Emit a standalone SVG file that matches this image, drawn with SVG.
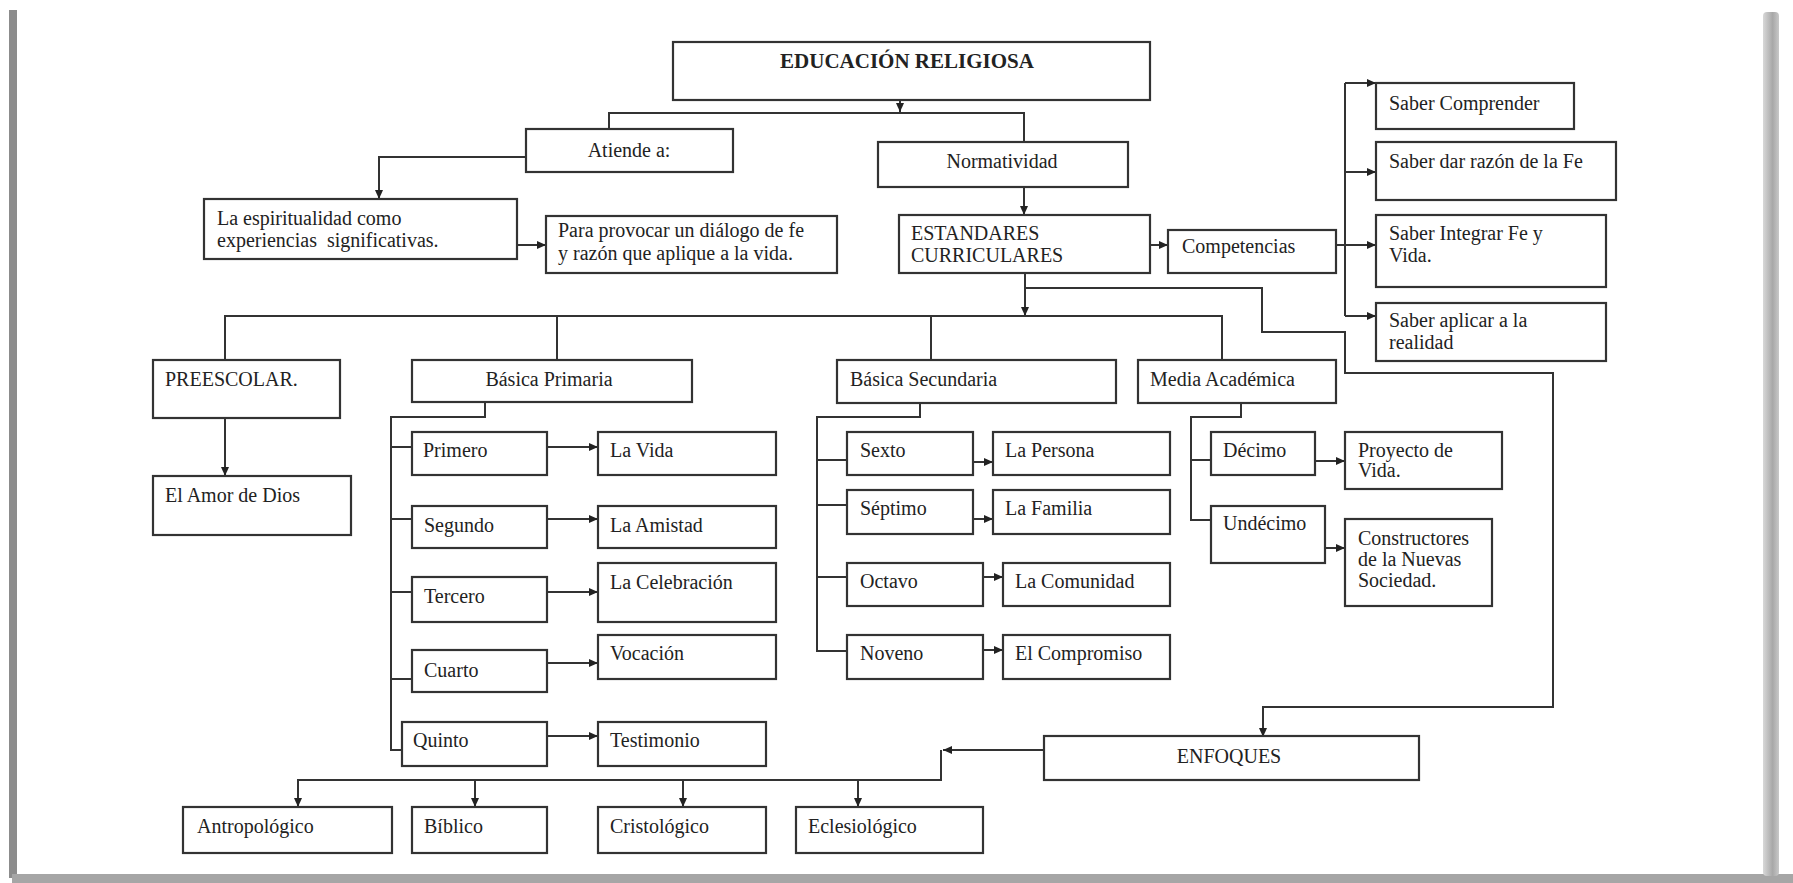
<svg xmlns="http://www.w3.org/2000/svg" width="1793" height="883" viewBox="0 0 1793 883">
<style>
.b{fill:#fff;stroke:#333;stroke-width:2.2}
.t{font-family:"Liberation Serif","Times New Roman",serif;font-size:20px;fill:#222}
.tb{font-family:"Liberation Serif","Times New Roman",serif;font-size:21px;font-weight:bold;fill:#222}
.c{fill:none;stroke:#333;stroke-width:2}
.m{text-anchor:middle}
</style>
<defs>
<marker id="ah" markerWidth="10" markerHeight="10" refX="9" refY="5" orient="auto" markerUnits="userSpaceOnUse"><path d="M0,1 L9,5 L0,9 z" fill="#222"/></marker>
<linearGradient id="rg" x1="0" x2="1" y1="0" y2="0"><stop offset="0" stop-color="#d8d8d8"/><stop offset="0.6" stop-color="#a8a8a8"/><stop offset="1" stop-color="#c8c8c8"/></linearGradient>
</defs>
<rect width="1793" height="883" fill="#fff"/>
<g id="frame">
<rect x="9" y="10" width="8" height="868" fill="#8c8c8c"/>
<rect x="12" y="874" width="1781" height="9" fill="#a6a6a6"/>
<rect x="1763" y="12" width="16" height="864" rx="4" fill="url(#rg)"/>
</g>
<g id="connectors">
<path class="c" d="M900,100 V112" marker-end="url(#ah)"/>
<path class="c" d="M609,129 V113 H1024 V142"/>
<path class="c" d="M526,157 H379 V199" marker-end="url(#ah)"/>
<path class="c" d="M517,245 H546" marker-end="url(#ah)"/>
<path class="c" d="M1024,187 V215" marker-end="url(#ah)"/>
<path class="c" d="M1150,245 H1168" marker-end="url(#ah)"/>
<path class="c" d="M1336,245 H1345 M1345,83 V316"/>
<path class="c" d="M1345,83 H1376" marker-end="url(#ah)"/>
<path class="c" d="M1345,172 H1376" marker-end="url(#ah)"/>
<path class="c" d="M1345,245 H1376" marker-end="url(#ah)"/>
<path class="c" d="M1345,316 H1376" marker-end="url(#ah)"/>
<path class="c" d="M1025,273 V316" marker-end="url(#ah)"/>
<path class="c" d="M225,360 V316 H1222 V360 M557,316 V360 M931,316 V360"/>
<path class="c" d="M1025,288 H1262 V332 H1345 V373 H1553 V707 H1263 V737" marker-end="url(#ah)"/>
<path class="c" d="M225,418 V476" marker-end="url(#ah)"/>
<path class="c" d="M485,402 V417 H391 V750 H402 M391,447 H412 M391,519 H412 M391,592 H412 M391,679 H412"/>
<path class="c" d="M547,447 H598" marker-end="url(#ah)"/>
<path class="c" d="M547,519 H598" marker-end="url(#ah)"/>
<path class="c" d="M547,592 H598" marker-end="url(#ah)"/>
<path class="c" d="M547,663 H598" marker-end="url(#ah)"/>
<path class="c" d="M547,736 H598" marker-end="url(#ah)"/>
<path class="c" d="M920,403 V417 H817 V651 H847 M817,460 H847 M817,505 H847 M817,577 H847"/>
<path class="c" d="M973,462 H993" marker-end="url(#ah)"/>
<path class="c" d="M973,519 H993" marker-end="url(#ah)"/>
<path class="c" d="M983,577 H1003" marker-end="url(#ah)"/>
<path class="c" d="M983,650 H1003" marker-end="url(#ah)"/>
<path class="c" d="M1241,403 V417 H1191 V520 H1211 M1191,460 H1211"/>
<path class="c" d="M1315,461 H1345" marker-end="url(#ah)"/>
<path class="c" d="M1325,548 H1345" marker-end="url(#ah)"/>
<path class="c" d="M1044,750 H943" marker-end="url(#ah)"/>
<path class="c" d="M941,750 V780 H298 V807 M475,780 V807 M683,780 V807 M858,780 V807"/>
<path class="c" d="M298,790 V807" marker-end="url(#ah)"/>
<path class="c" d="M475,790 V807" marker-end="url(#ah)"/>
<path class="c" d="M683,790 V807" marker-end="url(#ah)"/>
<path class="c" d="M858,790 V807" marker-end="url(#ah)"/>
</g>
<g id="n-educacion"><rect class="b" x="673" y="42" width="477" height="58"/><text class="tb m" x="907" y="68">EDUCACIÓN RELIGIOSA</text></g>
<g id="n-atiende"><rect class="b" x="526" y="129" width="207" height="43"/><text class="t m" x="629" y="157">Atiende a:</text></g>
<g id="n-normatividad"><rect class="b" x="878" y="142" width="250" height="45"/><text class="t m" x="1002" y="168">Normatividad</text></g>
<g id="n-espiritualidad"><rect class="b" x="204" y="199" width="313" height="60"/><text class="t" x="217" y="225">La espiritualidad como</text><text class="t" x="217" y="247" xml:space="preserve">experiencias  significativas.</text></g>
<g id="n-provocar"><rect class="b" x="546" y="216" width="291" height="57"/><text class="t" x="558" y="237">Para provocar un diálogo de fe</text><text class="t" x="558" y="260">y razón que aplique a la vida.</text></g>
<g id="n-estandares"><rect class="b" x="899" y="215" width="251" height="58"/><text class="t" x="911" y="240">ESTANDARES</text><text class="t" x="911" y="262">CURRICULARES</text></g>
<g id="n-competencias"><rect class="b" x="1168" y="230" width="168" height="43"/><text class="t" x="1182" y="253">Competencias</text></g>
<g id="n-comprender"><rect class="b" x="1376" y="83" width="198" height="46"/><text class="t" x="1389" y="110">Saber Comprender</text></g>
<g id="n-razon"><rect class="b" x="1376" y="142" width="240" height="58"/><text class="t" x="1389" y="168">Saber dar razón de la Fe</text></g>
<g id="n-integrar"><rect class="b" x="1376" y="215" width="230" height="72"/><text class="t" x="1389" y="240">Saber Integrar Fe y</text><text class="t" x="1389" y="262">Vida.</text></g>
<g id="n-aplicar"><rect class="b" x="1376" y="303" width="230" height="58"/><text class="t" x="1389" y="327">Saber aplicar a la</text><text class="t" x="1389" y="349">realidad</text></g>
<g id="n-preescolar"><rect class="b" x="153" y="360" width="187" height="58"/><text class="t" x="165" y="386">PREESCOLAR.</text></g>
<g id="n-amor"><rect class="b" x="153" y="476" width="198" height="59"/><text class="t" x="165" y="502">El Amor de Dios</text></g>
<g id="n-primaria"><rect class="b" x="412" y="360" width="280" height="42"/><text class="t m" x="549" y="386">Básica Primaria</text></g>
<g id="n-secundaria"><rect class="b" x="837" y="360" width="279" height="43"/><text class="t" x="850" y="386">Básica Secundaria</text></g>
<g id="n-media"><rect class="b" x="1138" y="360" width="198" height="43"/><text class="t" x="1150" y="386">Media Académica</text></g>
<g id="n-primero"><rect class="b" x="412" y="432" width="135" height="43"/><text class="t" x="423" y="457">Primero</text></g>
<g id="n-vida"><rect class="b" x="598" y="432" width="178" height="43"/><text class="t" x="610" y="457">La Vida</text></g>
<g id="n-segundo"><rect class="b" x="412" y="506" width="135" height="42"/><text class="t" x="424" y="532">Segundo</text></g>
<g id="n-amistad"><rect class="b" x="598" y="506" width="178" height="42"/><text class="t" x="610" y="532">La Amistad</text></g>
<g id="n-tercero"><rect class="b" x="412" y="577" width="135" height="45"/><text class="t" x="424" y="603">Tercero</text></g>
<g id="n-celebracion"><rect class="b" x="598" y="563" width="178" height="59"/><text class="t" x="610" y="589">La Celebración</text></g>
<g id="n-cuarto"><rect class="b" x="412" y="650" width="135" height="42"/><text class="t" x="424" y="677">Cuarto</text></g>
<g id="n-vocacion"><rect class="b" x="598" y="635" width="178" height="44"/><text class="t" x="610" y="660">Vocación</text></g>
<g id="n-quinto"><rect class="b" x="402" y="722" width="145" height="44"/><text class="t" x="413" y="747">Quinto</text></g>
<g id="n-testimonio"><rect class="b" x="598" y="722" width="168" height="44"/><text class="t" x="610" y="747">Testimonio</text></g>
<g id="n-sexto"><rect class="b" x="847" y="432" width="126" height="43"/><text class="t" x="860" y="457">Sexto</text></g>
<g id="n-persona"><rect class="b" x="993" y="432" width="177" height="43"/><text class="t" x="1005" y="457">La Persona</text></g>
<g id="n-septimo"><rect class="b" x="847" y="490" width="126" height="44"/><text class="t" x="860" y="515">Séptimo</text></g>
<g id="n-familia"><rect class="b" x="993" y="490" width="177" height="44"/><text class="t" x="1005" y="515">La Familia</text></g>
<g id="n-octavo"><rect class="b" x="847" y="563" width="136" height="43"/><text class="t" x="860" y="588">Octavo</text></g>
<g id="n-comunidad"><rect class="b" x="1003" y="563" width="167" height="43"/><text class="t" x="1015" y="588">La Comunidad</text></g>
<g id="n-noveno"><rect class="b" x="847" y="635" width="136" height="44"/><text class="t" x="860" y="660">Noveno</text></g>
<g id="n-compromiso"><rect class="b" x="1003" y="635" width="167" height="44"/><text class="t" x="1015" y="660">El Compromiso</text></g>
<g id="n-decimo"><rect class="b" x="1211" y="432" width="104" height="43"/><text class="t" x="1223" y="457">Décimo</text></g>
<g id="n-proyecto"><rect class="b" x="1345" y="432" width="157" height="57"/><text class="t" x="1358" y="457">Proyecto de</text><text class="t" x="1358" y="477">Vida.</text></g>
<g id="n-undecimo"><rect class="b" x="1211" y="506" width="114" height="57"/><text class="t" x="1223" y="530">Undécimo</text></g>
<g id="n-constructores"><rect class="b" x="1345" y="519" width="147" height="87"/><text class="t" x="1358" y="545">Constructores</text><text class="t" x="1358" y="566">de la Nuevas</text><text class="t" x="1358" y="587">Sociedad.</text></g>
<g id="n-enfoques"><rect class="b" x="1044" y="736" width="375" height="44"/><text class="t m" x="1229" y="763">ENFOQUES</text></g>
<g id="n-antropologico"><rect class="b" x="183" y="807" width="209" height="46"/><text class="t" x="197" y="833">Antropológico</text></g>
<g id="n-biblico"><rect class="b" x="412" y="807" width="135" height="46"/><text class="t" x="424" y="833">Bíblico</text></g>
<g id="n-cristologico"><rect class="b" x="598" y="807" width="168" height="46"/><text class="t" x="610" y="833">Cristológico</text></g>
<g id="n-eclesiologico"><rect class="b" x="796" y="807" width="187" height="46"/><text class="t" x="808" y="833">Eclesiológico</text></g>
</svg>
